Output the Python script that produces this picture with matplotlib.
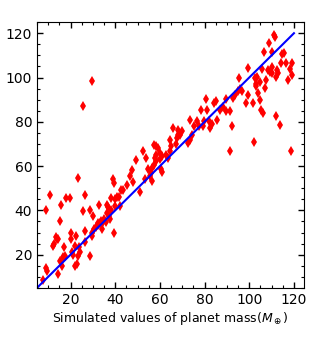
import numpy as np
import matplotlib
matplotlib.use("Agg")
import matplotlib.pyplot as plt
from matplotlib.ticker import MultipleLocator

# simulated (true) mass vs predicted mass
sim_mass = [7.5, 9, 9, 9.5, 11, 12, 12.7, 13.3, 14, 14.5, 14.3, 15.5, 15.8, 15.5, 16.3,
            16.5, 17.3, 17.8, 19.6, 17.5, 20.3, 20.3, 20.7, 21.3, 22.2, 22.5, 22, 22.8,
            23.4, 23.4, 24, 24.3, 25.5, 25.5, 26.3, 26.7, 26.7, 28.8, 28.8, 29.4, 29.4,
            29.7, 30, 30.3, 31.2, 32.1, 32.4, 33, 33.6, 34.5, 32.7, 34.2, 34.8, 35.7,
            36.3, 36.3, 36.9, 37.2, 37.5, 38, 38, 39, 39.3, 39.3, 39.9, 40.1, 40.7, 41.6,
            42.2, 42.5, 43.4, 45.5, 46.7, 47.3, 47.9, 49.1, 51.2, 52.4, 53.3, 53.9, 54.8,
            56.1, 56.6, 57.2, 57.6, 58.1, 58.4, 57.2, 58.4, 59.3, 59.9, 60.1, 61, 60.4,
            61, 55.7, 56.6, 62.8, 63.6, 64.3, 64.6, 65.1, 65.8, 67, 67.6, 68.2, 68.8,
            69.7, 68.2, 72.4, 73.3, 73.6, 74.5, 75.4, 76.6, 77.5, 78.2, 79.3, 79.9, 80.7,
            81, 81.9, 82.5, 83.4, 84, 84.9, 85.5, 86.7, 88.2, 89.4, 89.7, 91.5, 91.2,
            92.2, 92.7, 93.6, 94.8, 95.4, 96, 96.9, 98.4, 99.4, 99.6, 101.6, 102.2,
            102.4, 102.8, 103.1, 103.6, 104, 104.6, 104.9, 105.2, 105.8, 106.1, 106.4,
            106.9, 107.6, 108.4, 108.8, 109.4, 110, 110.3, 110.3, 110.9, 111.5, 112.1,
            112.1, 112.4, 113, 113.6, 114, 114.8, 115.4, 116.3, 117.5, 118.4, 118.7,
            119, 119.3]
pred_mass = [8.6, 40, 14, 12.4, 47, 24, 25, 28, 27, 27, 11.3, 35, 42.5, 17.3, 15,
             19, 23.3, 45.4, 45.4, 19.5, 30, 27, 21.3, 19.8, 24, 28.5, 15, 15.8,
             54.7, 19.5, 23.3, 21, 87.2, 39.8, 25.5, 46.8, 30.8, 40.2, 19.5, 30, 28.2,
             98.3, 37.5, 31.8, 32.7, 33.6, 34.2, 34.5, 35.3, 34.8, 42.6, 31.5, 36, 34.8,
             39, 42.3, 41.3, 37.5, 36, 45.4, 40.2, 54, 52.5, 30, 45.3, 42, 46.2, 46.2,
             42, 49.2, 49.2, 51.3, 55.5, 58.2, 52.8, 62.7, 48.3, 66.7, 54, 63.7, 58.5,
             57, 59.2, 60.7, 63.7, 62.2, 65.2, 69.4, 68.9, 68.2, 66, 63.3, 64.5, 58.5,
             57.3, 55.5, 53.2, 65.2, 63.7, 66.7, 71.9, 69, 77.2, 70.1, 72.7, 76.4, 74.2,
             75.7, 74.2, 70.4, 80.6, 71.9, 74.2, 78, 80.2, 78, 85.4, 78.2, 80.2, 90.2,
             85.4, 80.2, 77.2, 79.1, 88.4, 89.6, 80.6, 85.4, 86.9, 90.2, 84.7, 84.7, 66.7,
             77.9, 90.7, 92.2, 93.7, 99.6, 94.7, 94.1, 88.4, 92.2, 104.1, 88.4, 70.7,
             99.6, 96.2, 97.1, 100.4, 92.9, 98.1, 89.9, 85.4, 103.7, 83.9, 111.6,
             95.1, 98.9, 103.4, 115.7, 102.6, 104.9, 111.6, 101.9, 119.4, 118.4, 100.4,
             82.4, 103.4, 101.9, 78.7, 106.4, 110.6, 110.9, 106.4, 98.9, 103.7, 66.6,
             106.7, 101.1]

line_x = [5, 120]

fig = plt.figure(figsize=(3.19, 3.46), dpi=100)
ax = fig.add_axes([0.116, 0.168, 0.837, 0.768])

ax.plot(sim_mass, pred_mass, 'd', color='red', markersize=5.5, markeredgewidth=0)
ax.plot(line_x, line_x, '-', color='blue', linewidth=1.5)

ax.set_xlim(5, 124.5)
ax.set_ylim(5, 125)
ax.xaxis.set_major_locator(MultipleLocator(20))
ax.yaxis.set_major_locator(MultipleLocator(20))
ax.xaxis.set_minor_locator(MultipleLocator(5))
ax.yaxis.set_minor_locator(MultipleLocator(5))
ax.tick_params(which='both', direction='in', top=True, right=True, labelsize=10)
ax.tick_params(which='major', length=4, width=1)
ax.tick_params(which='minor', length=2, width=0.8)

ax.set_xlabel(r'Simulated values of planet mass($M_\oplus$)', fontsize=9, labelpad=2)

plt.savefig("out.png", dpi=100)
